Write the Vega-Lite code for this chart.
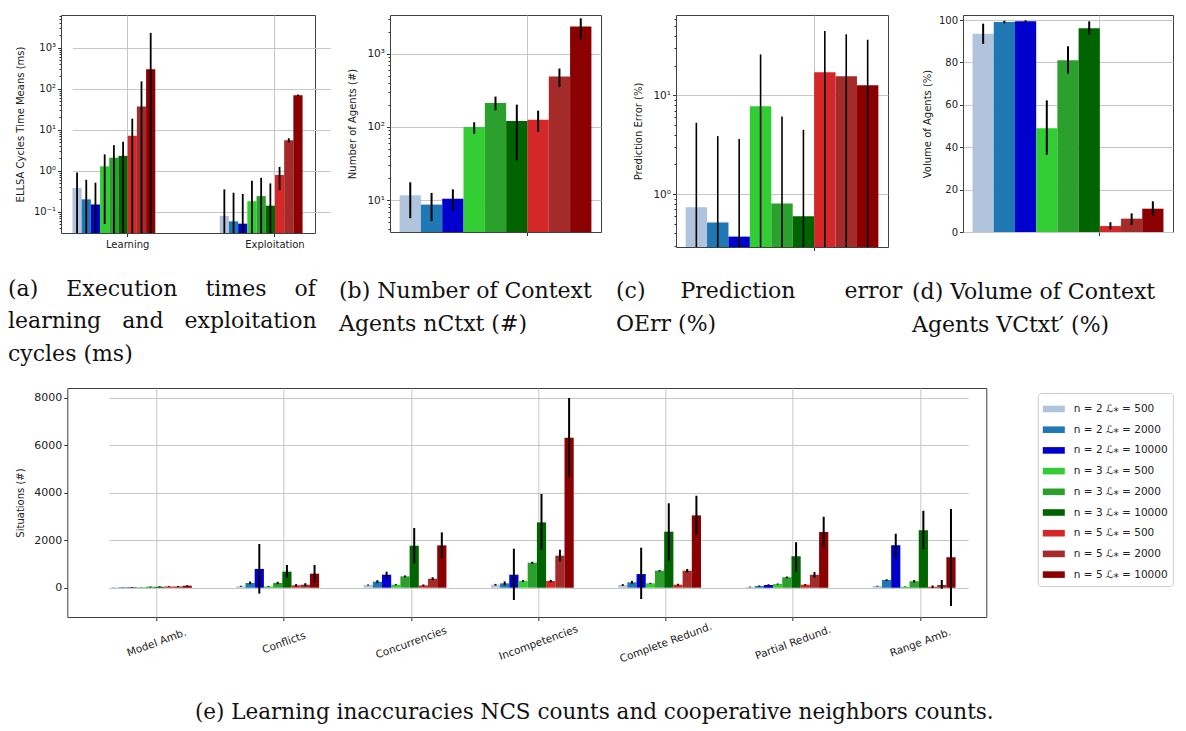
{
  "$schema": "https://vega.github.io/schema/vega-lite/v6.json",
  "background": "white",
  "padding": {"left": 7, "top": 10, "right": 4, "bottom": 4},
  "config": {
    "font": "DejaVu Sans",
    "view": {"stroke": "#404040", "strokeWidth": 1},
    "axis": {
      "labelFont": "DejaVu Sans", "labelFontSize": 10, "labelColor": "#222222",
      "titleFont": "DejaVu Sans", "titleFontSize": 10, "titleFontWeight": "normal", "titleColor": "#222222",
      "tickColor": "#333333", "tickSize": 3.5, "domain": false,
      "gridColor": "#c6c6c6", "gridWidth": 1, "labelOverlap": false, "zindex": 1
    },
    "title": {"font": "DejaVu Serif", "fontSize": 22, "fontWeight": "normal", "color": "#111111", "lineHeight": 32.5}
  },
  "datasets": {
    "times": [
      {"phase": "Learning", "config": "n = 2 ℒ⁎ = 500", "mean": 0.38, "lo": 0.03, "hi": 0.9},
      {"phase": "Learning", "config": "n = 2 ℒ⁎ = 2000", "mean": 0.2, "lo": 0.03, "hi": 0.6},
      {"phase": "Learning", "config": "n = 2 ℒ⁎ = 10000", "mean": 0.15, "lo": 0.03, "hi": 0.51},
      {"phase": "Learning", "config": "n = 3 ℒ⁎ = 500", "mean": 1.28, "lo": 0.05, "hi": 2.5},
      {"phase": "Learning", "config": "n = 3 ℒ⁎ = 2000", "mean": 2.07, "lo": 0.03, "hi": 4.2},
      {"phase": "Learning", "config": "n = 3 ℒ⁎ = 10000", "mean": 2.3, "lo": 0.03, "hi": 5.1},
      {"phase": "Learning", "config": "n = 5 ℒ⁎ = 500", "mean": 7.1, "lo": 0.03, "hi": 18.6},
      {"phase": "Learning", "config": "n = 5 ℒ⁎ = 2000", "mean": 37, "lo": 0.03, "hi": 151},
      {"phase": "Learning", "config": "n = 5 ℒ⁎ = 10000", "mean": 297, "lo": 0.03, "hi": 2300},
      {"phase": "Exploitation", "config": "n = 2 ℒ⁎ = 500", "mean": 0.079, "lo": 0.03, "hi": 0.35},
      {"phase": "Exploitation", "config": "n = 2 ℒ⁎ = 2000", "mean": 0.058, "lo": 0.03, "hi": 0.29},
      {"phase": "Exploitation", "config": "n = 2 ℒ⁎ = 10000", "mean": 0.051, "lo": 0.03, "hi": 0.27},
      {"phase": "Exploitation", "config": "n = 3 ℒ⁎ = 500", "mean": 0.18, "lo": 0.03, "hi": 0.57},
      {"phase": "Exploitation", "config": "n = 3 ℒ⁎ = 2000", "mean": 0.24, "lo": 0.03, "hi": 0.67},
      {"phase": "Exploitation", "config": "n = 3 ℒ⁎ = 10000", "mean": 0.14, "lo": 0.03, "hi": 0.49},
      {"phase": "Exploitation", "config": "n = 5 ℒ⁎ = 500", "mean": 0.785, "lo": 0.335, "hi": 1.24},
      {"phase": "Exploitation", "config": "n = 5 ℒ⁎ = 2000", "mean": 5.5, "lo": 4.9, "hi": 6.2},
      {"phase": "Exploitation", "config": "n = 5 ℒ⁎ = 10000", "mean": 69, "lo": 66, "hi": 72}
    ],
    "agents": [
      {"config": "n = 2 ℒ⁎ = 500", "mean": 11.7, "lo": 5.7, "hi": 17.6},
      {"config": "n = 2 ℒ⁎ = 2000", "mean": 8.73, "lo": 5.2, "hi": 12.6},
      {"config": "n = 2 ℒ⁎ = 10000", "mean": 10.5, "lo": 7.3, "hi": 14.1},
      {"config": "n = 3 ℒ⁎ = 500", "mean": 100, "lo": 81, "hi": 116},
      {"config": "n = 3 ℒ⁎ = 2000", "mean": 212, "lo": 169, "hi": 260},
      {"config": "n = 3 ℒ⁎ = 10000", "mean": 121, "lo": 35, "hi": 202},
      {"config": "n = 5 ℒ⁎ = 500", "mean": 126, "lo": 85.5, "hi": 167},
      {"config": "n = 5 ℒ⁎ = 2000", "mean": 488, "lo": 351, "hi": 627},
      {"config": "n = 5 ℒ⁎ = 10000", "mean": 2344, "lo": 1556, "hi": 3040}
    ],
    "error": [
      {"config": "n = 2 ℒ⁎ = 500", "mean": 0.738, "lo": 0.29, "hi": 5.28},
      {"config": "n = 2 ℒ⁎ = 2000", "mean": 0.517, "lo": 0.29, "hi": 3.87},
      {"config": "n = 2 ℒ⁎ = 10000", "mean": 0.372, "lo": 0.29, "hi": 3.61},
      {"config": "n = 3 ℒ⁎ = 500", "mean": 7.74, "lo": 0.29, "hi": 26},
      {"config": "n = 3 ℒ⁎ = 2000", "mean": 0.805, "lo": 0.29, "hi": 6.12},
      {"config": "n = 3 ℒ⁎ = 10000", "mean": 0.598, "lo": 0.29, "hi": 4.48},
      {"config": "n = 5 ℒ⁎ = 500", "mean": 17.1, "lo": 0.29, "hi": 44.9},
      {"config": "n = 5 ℒ⁎ = 2000", "mean": 15.6, "lo": 0.29, "hi": 41.5},
      {"config": "n = 5 ℒ⁎ = 10000", "mean": 12.7, "lo": 0.29, "hi": 36.6}
    ],
    "volume": [
      {"config": "n = 2 ℒ⁎ = 500", "mean": 93.5, "lo": 88.8, "hi": 98.3},
      {"config": "n = 2 ℒ⁎ = 2000", "mean": 99.1, "lo": 98.5, "hi": 99.7},
      {"config": "n = 2 ℒ⁎ = 10000", "mean": 99.4, "lo": 98.9, "hi": 99.9},
      {"config": "n = 3 ℒ⁎ = 500", "mean": 49.0, "lo": 36.4, "hi": 62.1},
      {"config": "n = 3 ℒ⁎ = 2000", "mean": 81.1, "lo": 74.8, "hi": 87.7},
      {"config": "n = 3 ℒ⁎ = 10000", "mean": 96.1, "lo": 93.1, "hi": 99.4},
      {"config": "n = 5 ℒ⁎ = 500", "mean": 2.8, "lo": 1.3, "hi": 4.6},
      {"config": "n = 5 ℒ⁎ = 2000", "mean": 6.3, "lo": 3.3, "hi": 8.8},
      {"config": "n = 5 ℒ⁎ = 10000", "mean": 11.0, "lo": 7.6, "hi": 14.5}
    ],
    "ncs": [
      {"situation": "Model Amb.", "config": "n = 2 ℒ⁎ = 500", "mean": 10, "lo": 5, "hi": 15},
      {"situation": "Model Amb.", "config": "n = 2 ℒ⁎ = 2000", "mean": 15, "lo": 7, "hi": 23},
      {"situation": "Model Amb.", "config": "n = 2 ℒ⁎ = 10000", "mean": 20, "lo": 10, "hi": 30},
      {"situation": "Model Amb.", "config": "n = 3 ℒ⁎ = 500", "mean": 15, "lo": 7, "hi": 23},
      {"situation": "Model Amb.", "config": "n = 3 ℒ⁎ = 2000", "mean": 35, "lo": 15, "hi": 55},
      {"situation": "Model Amb.", "config": "n = 3 ℒ⁎ = 10000", "mean": 40, "lo": 20, "hi": 60},
      {"situation": "Model Amb.", "config": "n = 5 ℒ⁎ = 500", "mean": 45, "lo": 30, "hi": 60},
      {"situation": "Model Amb.", "config": "n = 5 ℒ⁎ = 2000", "mean": 50, "lo": 30, "hi": 70},
      {"situation": "Model Amb.", "config": "n = 5 ℒ⁎ = 10000", "mean": 80, "lo": 55, "hi": 105},
      {"situation": "Conflicts", "config": "n = 2 ℒ⁎ = 500", "mean": 60, "lo": 40, "hi": 80},
      {"situation": "Conflicts", "config": "n = 2 ℒ⁎ = 2000", "mean": 200, "lo": 140, "hi": 260},
      {"situation": "Conflicts", "config": "n = 2 ℒ⁎ = 10000", "mean": 790, "lo": -250, "hi": 1840},
      {"situation": "Conflicts", "config": "n = 3 ℒ⁎ = 500", "mean": 50, "lo": 30, "hi": 70},
      {"situation": "Conflicts", "config": "n = 3 ℒ⁎ = 2000", "mean": 200, "lo": 150, "hi": 250},
      {"situation": "Conflicts", "config": "n = 3 ℒ⁎ = 10000", "mean": 674, "lo": 420, "hi": 955},
      {"situation": "Conflicts", "config": "n = 5 ℒ⁎ = 500", "mean": 100, "lo": 50, "hi": 150},
      {"situation": "Conflicts", "config": "n = 5 ℒ⁎ = 2000", "mean": 126, "lo": 60, "hi": 190},
      {"situation": "Conflicts", "config": "n = 5 ℒ⁎ = 10000", "mean": 590, "lo": 225, "hi": 955},
      {"situation": "Concurrencies", "config": "n = 2 ℒ⁎ = 500", "mean": 112, "lo": 90, "hi": 135},
      {"situation": "Concurrencies", "config": "n = 2 ℒ⁎ = 2000", "mean": 253, "lo": 190, "hi": 315},
      {"situation": "Concurrencies", "config": "n = 2 ℒ⁎ = 10000", "mean": 547, "lo": 420, "hi": 675},
      {"situation": "Concurrencies", "config": "n = 3 ℒ⁎ = 500", "mean": 126, "lo": 100, "hi": 150},
      {"situation": "Concurrencies", "config": "n = 3 ℒ⁎ = 2000", "mean": 477, "lo": 440, "hi": 515},
      {"situation": "Concurrencies", "config": "n = 3 ℒ⁎ = 10000", "mean": 1768, "lo": 1024, "hi": 2513},
      {"situation": "Concurrencies", "config": "n = 5 ℒ⁎ = 500", "mean": 97, "lo": 60, "hi": 135},
      {"situation": "Concurrencies", "config": "n = 5 ℒ⁎ = 2000", "mean": 379, "lo": 320, "hi": 440},
      {"situation": "Concurrencies", "config": "n = 5 ℒ⁎ = 10000", "mean": 1782, "lo": 1235, "hi": 2330},
      {"situation": "Incompetencies", "config": "n = 2 ℒ⁎ = 500", "mean": 126, "lo": 90, "hi": 160},
      {"situation": "Incompetencies", "config": "n = 2 ℒ⁎ = 2000", "mean": 183, "lo": 100, "hi": 265},
      {"situation": "Incompetencies", "config": "n = 2 ℒ⁎ = 10000", "mean": 547, "lo": -519, "hi": 1642},
      {"situation": "Incompetencies", "config": "n = 3 ℒ⁎ = 500", "mean": 281, "lo": 240, "hi": 320},
      {"situation": "Incompetencies", "config": "n = 3 ℒ⁎ = 2000", "mean": 1053, "lo": 1010, "hi": 1095},
      {"situation": "Incompetencies", "config": "n = 3 ℒ⁎ = 10000", "mean": 2750, "lo": 1586, "hi": 3944},
      {"situation": "Incompetencies", "config": "n = 5 ℒ⁎ = 500", "mean": 281, "lo": 230, "hi": 330},
      {"situation": "Incompetencies", "config": "n = 5 ℒ⁎ = 2000", "mean": 1347, "lo": 1108, "hi": 1600},
      {"situation": "Incompetencies", "config": "n = 5 ℒ⁎ = 10000", "mean": 6316, "lo": 4646, "hi": 7986},
      {"situation": "Complete Redund.", "config": "n = 2 ℒ⁎ = 500", "mean": 112, "lo": 75, "hi": 150},
      {"situation": "Complete Redund.", "config": "n = 2 ℒ⁎ = 2000", "mean": 225, "lo": 165, "hi": 285},
      {"situation": "Complete Redund.", "config": "n = 2 ℒ⁎ = 10000", "mean": 575, "lo": -477, "hi": 1684},
      {"situation": "Complete Redund.", "config": "n = 3 ℒ⁎ = 500", "mean": 183, "lo": 160, "hi": 205},
      {"situation": "Complete Redund.", "config": "n = 3 ℒ⁎ = 2000", "mean": 716, "lo": 685, "hi": 745},
      {"situation": "Complete Redund.", "config": "n = 3 ℒ⁎ = 10000", "mean": 2358, "lo": 1137, "hi": 3551},
      {"situation": "Complete Redund.", "config": "n = 5 ℒ⁎ = 500", "mean": 126, "lo": 85, "hi": 165},
      {"situation": "Complete Redund.", "config": "n = 5 ℒ⁎ = 2000", "mean": 716, "lo": 645, "hi": 790},
      {"situation": "Complete Redund.", "config": "n = 5 ℒ⁎ = 10000", "mean": 3045, "lo": 2218, "hi": 3874},
      {"situation": "Partial Redund.", "config": "n = 2 ℒ⁎ = 500", "mean": 30, "lo": 15, "hi": 45},
      {"situation": "Partial Redund.", "config": "n = 2 ℒ⁎ = 2000", "mean": 70, "lo": 45, "hi": 95},
      {"situation": "Partial Redund.", "config": "n = 2 ℒ⁎ = 10000", "mean": 112, "lo": 80, "hi": 145},
      {"situation": "Partial Redund.", "config": "n = 3 ℒ⁎ = 500", "mean": 154, "lo": 130, "hi": 180},
      {"situation": "Partial Redund.", "config": "n = 3 ℒ⁎ = 2000", "mean": 435, "lo": 395, "hi": 475},
      {"situation": "Partial Redund.", "config": "n = 3 ℒ⁎ = 10000", "mean": 1319, "lo": 674, "hi": 1909},
      {"situation": "Partial Redund.", "config": "n = 5 ℒ⁎ = 500", "mean": 126, "lo": 95, "hi": 155},
      {"situation": "Partial Redund.", "config": "n = 5 ℒ⁎ = 2000", "mean": 547, "lo": 430, "hi": 665},
      {"situation": "Partial Redund.", "config": "n = 5 ℒ⁎ = 10000", "mean": 2344, "lo": 1698, "hi": 2989},
      {"situation": "Range Amb.", "config": "n = 2 ℒ⁎ = 500", "mean": 70, "lo": 55, "hi": 85},
      {"situation": "Range Amb.", "config": "n = 2 ℒ⁎ = 2000", "mean": 323, "lo": 285, "hi": 360},
      {"situation": "Range Amb.", "config": "n = 2 ℒ⁎ = 10000", "mean": 1782, "lo": 1263, "hi": 2274},
      {"situation": "Range Amb.", "config": "n = 3 ℒ⁎ = 500", "mean": 40, "lo": 25, "hi": 55},
      {"situation": "Range Amb.", "config": "n = 3 ℒ⁎ = 2000", "mean": 267, "lo": 215, "hi": 320},
      {"situation": "Range Amb.", "config": "n = 3 ℒ⁎ = 10000", "mean": 2414, "lo": 1614, "hi": 3242},
      {"situation": "Range Amb.", "config": "n = 5 ℒ⁎ = 500", "mean": 40, "lo": -10, "hi": 90},
      {"situation": "Range Amb.", "config": "n = 5 ℒ⁎ = 2000", "mean": 112, "lo": -40, "hi": 323},
      {"situation": "Range Amb.", "config": "n = 5 ℒ⁎ = 10000", "mean": 1277, "lo": -772, "hi": 3312}
    ]
  },
  "concat": [
    {
      "hconcat": [
        {
          "width": 254, "height": 218,
          "data": {"name": "times"},
          "title": {"text": ["(a)\u00a0\u00a0\u00a0\u00a0Execution\u00a0\u00a0\u00a0\u00a0times\u00a0\u00a0\u00a0\u00a0of", "learning\u00a0\u00a0\u00a0and\u00a0\u00a0\u00a0exploitation", "cycles (ms)"], "orient": "bottom", "anchor": "start", "frame": "bounds", "offset": 29, "dx": -7},
          "encoding": {
            "x": {"field": "phase", "type": "nominal", "sort": ["Learning", "Exploitation"],
                  "scale": {"domain": ["Learning", "Exploitation"], "range": [11.45, 269.2], "paddingInner": 0.25, "paddingOuter": 0},
                  "axis": {"title": null, "labelAngle": 0, "grid": true, "bandPosition": 0.5, "labelPadding": 3}},
            "xOffset": {"field": "config", "type": "nominal",
                  "scale": {"domain": ["n = 2 ℒ⁎ = 500", "n = 2 ℒ⁎ = 2000", "n = 2 ℒ⁎ = 10000", "n = 3 ℒ⁎ = 500", "n = 3 ℒ⁎ = 2000", "n = 3 ℒ⁎ = 10000", "n = 5 ℒ⁎ = 500", "n = 5 ℒ⁎ = 2000", "n = 5 ℒ⁎ = 10000", "slot10", "slot11", "slot12"], "paddingInner": 0, "paddingOuter": 0}}
          },
          "layer": [
            {
              "mark": {"type": "bar", "clip": true},
              "encoding": {
                "y": {"field": "mean", "type": "quantitative",
                      "scale": {"type": "log", "domain": [0.0302, 6280], "nice": false},
                      "axis": {"title": "ELLSA Cycles Time Means (ms)", "minExtent": 30, "maxExtent": 30, "titlePadding": 6,
                               "values": [0.04, 0.05, 0.06, 0.07, 0.08, 0.09, 0.1, 0.2, 0.3, 0.4, 0.5, 0.6, 0.7, 0.8, 0.9, 1, 2, 3, 4, 5, 6, 7, 8, 9, 10, 20, 30, 40, 50, 60, 70, 80, 90, 100, 200, 300, 400, 500, 600, 700, 800, 900, 1000, 2000, 3000, 4000, 5000, 6000],
                               "labelExpr": "datum.value === 0.1 ? '10⁻¹' : datum.value === 1 ? '10⁰' : datum.value === 10 ? '10¹' : datum.value === 100 ? '10²' : datum.value === 1000 ? '10³' : ''",
                               "tickSize": {"condition": {"test": "indexof([0.1, 1, 10, 100, 1000], datum.value) >= 0", "value": 3.5}, "value": 2},
                               "gridOpacity": {"condition": {"test": "indexof([0.1, 1, 10, 100, 1000], datum.value) >= 0", "value": 1}, "value": 0}}},
                "y2": {"datum": 0.0302},
                "color": {"field": "config", "type": "nominal",
                          "scale": {"domain": ["n = 2 ℒ⁎ = 500", "n = 2 ℒ⁎ = 2000", "n = 2 ℒ⁎ = 10000", "n = 3 ℒ⁎ = 500", "n = 3 ℒ⁎ = 2000", "n = 3 ℒ⁎ = 10000", "n = 5 ℒ⁎ = 500", "n = 5 ℒ⁎ = 2000", "n = 5 ℒ⁎ = 10000"],
                                    "range": ["#b0c4de", "#1f77b4", "#0000cd", "#32cd32", "#2ca02c", "#006400", "#d62728", "#a52a2a", "#8b0000"]},
                          "legend": null}
              }
            },
            {
              "mark": {"type": "rule", "clip": true, "color": "black", "strokeWidth": 1.8},
              "encoding": {"y": {"field": "lo", "type": "quantitative"}, "y2": {"field": "hi"}}
            }
          ]
        },
        {
          "width": 211, "height": 217,
          "data": {"name": "agents"},
          "title": {"text": ["(b) Number of Context", "Agents nCtxt (#)"], "orient": "bottom", "anchor": "start", "frame": "bounds", "offset": 45, "dx": -8},
          "encoding": {
            "x": {"field": "config", "type": "nominal",
                  "scale": {"domain": ["n = 2 ℒ⁎ = 500", "n = 2 ℒ⁎ = 2000", "n = 2 ℒ⁎ = 10000", "n = 3 ℒ⁎ = 500", "n = 3 ℒ⁎ = 2000", "n = 3 ℒ⁎ = 10000", "n = 5 ℒ⁎ = 500", "n = 5 ℒ⁎ = 2000", "n = 5 ℒ⁎ = 10000"], "paddingInner": 0, "paddingOuter": 0.45},
                  "axis": {"title": null, "labels": false, "grid": true, "values": ["n = 5 ℒ⁎ = 500"], "bandPosition": 0}}
          },
          "layer": [
            {
              "mark": {"type": "bar", "clip": true},
              "encoding": {
                "y": {"field": "mean", "type": "quantitative",
                      "scale": {"type": "log", "domain": [3.69, 3375], "nice": false},
                      "axis": {"title": "Number of Agents (#)", "minExtent": 23, "maxExtent": 23, "titlePadding": 10,
                               "values": [4, 5, 6, 7, 8, 9, 10, 20, 30, 40, 50, 60, 70, 80, 90, 100, 200, 300, 400, 500, 600, 700, 800, 900, 1000, 2000, 3000],
                               "labelExpr": "datum.value === 10 ? '10¹' : datum.value === 100 ? '10²' : datum.value === 1000 ? '10³' : ''",
                               "labelFontSize": 10.5,
                               "tickSize": {"condition": {"test": "indexof([10, 100, 1000], datum.value) >= 0", "value": 3.5}, "value": 2},
                               "gridOpacity": {"condition": {"test": "indexof([10, 100, 1000], datum.value) >= 0", "value": 1}, "value": 0}}},
                "y2": {"datum": 3.69},
                "color": {"field": "config", "type": "nominal",
                          "scale": {"domain": ["n = 2 ℒ⁎ = 500", "n = 2 ℒ⁎ = 2000", "n = 2 ℒ⁎ = 10000", "n = 3 ℒ⁎ = 500", "n = 3 ℒ⁎ = 2000", "n = 3 ℒ⁎ = 10000", "n = 5 ℒ⁎ = 500", "n = 5 ℒ⁎ = 2000", "n = 5 ℒ⁎ = 10000"],
                                    "range": ["#b0c4de", "#1f77b4", "#0000cd", "#32cd32", "#2ca02c", "#006400", "#d62728", "#a52a2a", "#8b0000"]},
                          "legend": null}
              }
            },
            {
              "mark": {"type": "rule", "clip": true, "color": "black", "strokeWidth": 2},
              "encoding": {"y": {"field": "lo", "type": "quantitative"}, "y2": {"field": "hi"}}
            }
          ]
        },
        {
          "width": 212, "height": 232,
          "data": {"name": "error"},
          "title": {"text": ["(c)\u00a0\u00a0\u00a0\u00a0\u00a0Prediction\u00a0\u00a0\u00a0\u00a0\u00a0\u00a0\u00a0error", "\u00a0\u00a0OErr (%)"], "orient": "bottom", "anchor": "start", "frame": "bounds", "offset": 30, "dx": -17},
          "encoding": {
            "x": {"field": "config", "type": "nominal",
                  "scale": {"domain": ["n = 2 ℒ⁎ = 500", "n = 2 ℒ⁎ = 2000", "n = 2 ℒ⁎ = 10000", "n = 3 ℒ⁎ = 500", "n = 3 ℒ⁎ = 2000", "n = 3 ℒ⁎ = 10000", "n = 5 ℒ⁎ = 500", "n = 5 ℒ⁎ = 2000", "n = 5 ℒ⁎ = 10000"], "paddingInner": 0, "paddingOuter": 0.45},
                  "axis": {"title": null, "labels": false, "grid": true, "values": ["n = 5 ℒ⁎ = 500"], "bandPosition": 0}}
          },
          "layer": [
            {
              "mark": {"type": "bar", "clip": true},
              "encoding": {
                "y": {"field": "mean", "type": "quantitative",
                      "scale": {"type": "log", "domain": [0.292, 65.1], "nice": false},
                      "axis": {"title": "Prediction Error (%)", "minExtent": 23, "maxExtent": 23, "titlePadding": 10,
                               "values": [0.3, 0.4, 0.5, 0.6, 0.7, 0.8, 0.9, 1, 2, 3, 4, 5, 6, 7, 8, 9, 10, 20, 30, 40, 50, 60],
                               "labelExpr": "datum.value === 1 ? '10⁰' : datum.value === 10 ? '10¹' : ''",
                               "labelFontSize": 10.5,
                               "tickSize": {"condition": {"test": "indexof([1, 10], datum.value) >= 0", "value": 3.5}, "value": 2},
                               "gridOpacity": {"condition": {"test": "indexof([1, 10], datum.value) >= 0", "value": 1}, "value": 0}}},
                "y2": {"datum": 0.292},
                "color": {"field": "config", "type": "nominal",
                          "scale": {"domain": ["n = 2 ℒ⁎ = 500", "n = 2 ℒ⁎ = 2000", "n = 2 ℒ⁎ = 10000", "n = 3 ℒ⁎ = 500", "n = 3 ℒ⁎ = 2000", "n = 3 ℒ⁎ = 10000", "n = 5 ℒ⁎ = 500", "n = 5 ℒ⁎ = 2000", "n = 5 ℒ⁎ = 10000"],
                                    "range": ["#b0c4de", "#1f77b4", "#0000cd", "#32cd32", "#2ca02c", "#006400", "#d62728", "#a52a2a", "#8b0000"]},
                          "legend": null}
              }
            },
            {
              "mark": {"type": "rule", "clip": true, "color": "black", "strokeWidth": 1.6},
              "encoding": {"y": {"field": "lo", "type": "quantitative"}, "y2": {"field": "hi"}}
            }
          ]
        },
        {
          "width": 210, "height": 217,
          "data": {"name": "volume"},
          "title": {"text": ["(d) Volume of Context", "Agents VCtxt′ (%)"], "orient": "bottom", "anchor": "start", "frame": "bounds", "offset": 45, "dx": -10},
          "encoding": {
            "x": {"field": "config", "type": "nominal",
                  "scale": {"domain": ["n = 2 ℒ⁎ = 500", "n = 2 ℒ⁎ = 2000", "n = 2 ℒ⁎ = 10000", "n = 3 ℒ⁎ = 500", "n = 3 ℒ⁎ = 2000", "n = 3 ℒ⁎ = 10000", "n = 5 ℒ⁎ = 500", "n = 5 ℒ⁎ = 2000", "n = 5 ℒ⁎ = 10000"], "paddingInner": 0, "paddingOuter": 0.45},
                  "axis": {"title": null, "labels": false, "grid": true, "values": ["n = 5 ℒ⁎ = 500"], "bandPosition": 0}}
          },
          "layer": [
            {
              "mark": {"type": "bar", "clip": true},
              "encoding": {
                "y": {"field": "mean", "type": "quantitative",
                      "scale": {"domain": [0, 102.4], "nice": false, "zero": true},
                      "axis": {"title": "Volume of Agents (%)", "minExtent": 23, "maxExtent": 23, "titlePadding": 8,
                               "values": [0, 20, 40, 60, 80, 100]}},
                "color": {"field": "config", "type": "nominal",
                          "scale": {"domain": ["n = 2 ℒ⁎ = 500", "n = 2 ℒ⁎ = 2000", "n = 2 ℒ⁎ = 10000", "n = 3 ℒ⁎ = 500", "n = 3 ℒ⁎ = 2000", "n = 3 ℒ⁎ = 10000", "n = 5 ℒ⁎ = 500", "n = 5 ℒ⁎ = 2000", "n = 5 ℒ⁎ = 10000"],
                                    "range": ["#b0c4de", "#1f77b4", "#0000cd", "#32cd32", "#2ca02c", "#006400", "#d62728", "#a52a2a", "#8b0000"]},
                          "legend": null}
              }
            },
            {
              "mark": {"type": "rule", "clip": true, "color": "black", "strokeWidth": 2},
              "encoding": {"y": {"field": "lo", "type": "quantitative"}, "y2": {"field": "hi"}}
            }
          ]
        }
      ],
      "spacing": 75,
      "bounds": "flush",
      "resolve": {"scale": {"color": "independent"}, "legend": {"color": "independent"}}
    },
    {
      "hconcat": [
        {
          "width": 1, "height": 1,
          "data": {"values": []},
          "mark": {"type": "point"},
          "view": {"stroke": null}
        },
        {
          "width": 919, "height": 229,
          "data": {"name": "ncs"},
          "title": {"text": "(e) Learning inaccuracies NCS counts and cooperative neighbors counts.", "orient": "bottom", "anchor": "middle", "frame": "bounds", "offset": 38, "fontSize": 21.5},
          "encoding": {
            "x": {"field": "situation", "type": "nominal",
                  "sort": ["Model Amb.", "Conflicts", "Concurrencies", "Incompetencies", "Complete Redund.", "Partial Redund.", "Range Amb."],
                  "scale": {"domain": ["Model Amb.", "Conflicts", "Concurrencies", "Incompetencies", "Complete Redund.", "Partial Redund.", "Range Amb."], "range": [41.7, 900.9], "paddingInner": 0.25, "paddingOuter": 0},
                  "axis": {"title": null, "grid": true, "bandPosition": 0.5, "labelAngle": -20, "labelAlign": "center", "labelBaseline": "middle", "labelFontSize": 10.5, "labelPadding": 22}},
            "xOffset": {"field": "config", "type": "nominal",
                  "scale": {"domain": ["n = 2 ℒ⁎ = 500", "n = 2 ℒ⁎ = 2000", "n = 2 ℒ⁎ = 10000", "n = 3 ℒ⁎ = 500", "n = 3 ℒ⁎ = 2000", "n = 3 ℒ⁎ = 10000", "n = 5 ℒ⁎ = 500", "n = 5 ℒ⁎ = 2000", "n = 5 ℒ⁎ = 10000", "slot10", "slot11", "slot12"], "paddingInner": 0, "paddingOuter": 0}}
          },
          "layer": [
            {
              "mark": {"type": "bar", "clip": true},
              "encoding": {
                "y": {"field": "mean", "type": "quantitative",
                      "scale": {"domain": [-1234, 8408], "nice": false, "zero": false},
                      "axis": {"title": "Situations (#)", "values": [0, 2000, 4000, 6000, 8000], "format": "d", "labelFontSize": 11, "minExtent": 31, "maxExtent": 31, "titlePadding": 11}},
                "color": {"field": "config", "type": "nominal",
                          "scale": {"domain": ["n = 2 ℒ⁎ = 500", "n = 2 ℒ⁎ = 2000", "n = 2 ℒ⁎ = 10000", "n = 3 ℒ⁎ = 500", "n = 3 ℒ⁎ = 2000", "n = 3 ℒ⁎ = 10000", "n = 5 ℒ⁎ = 500", "n = 5 ℒ⁎ = 2000", "n = 5 ℒ⁎ = 10000"],
                                    "range": ["#b0c4de", "#1f77b4", "#0000cd", "#32cd32", "#2ca02c", "#006400", "#d62728", "#a52a2a", "#8b0000"]},
                          "legend": {"orient": "none", "legendX": 970.5, "legendY": 5, "title": null, "direction": "vertical",
                                     "symbolType": "M-1,-0.3H1V0.3H-1Z", "symbolSize": 484, "symbolStrokeWidth": 0, "symbolOpacity": 1,
                                     "labelFont": "DejaVu Sans", "labelFontSize": 10.5, "labelColor": "#222222", "labelOffset": 9,
                                     "rowPadding": 3.7, "padding": 5, "strokeColor": "#cccccc", "cornerRadius": 3, "fillColor": "white"}}
              }
            },
            {
              "mark": {"type": "rule", "clip": true, "color": "black", "strokeWidth": 2},
              "encoding": {"y": {"field": "lo", "type": "quantitative"}, "y2": {"field": "hi"}}
            }
          ]
        }
      ],
      "spacing": 5.3,
      "bounds": "flush",
      "resolve": {"scale": {"color": "independent"}, "legend": {"color": "independent"}}
    }
  ],
  "columns": 1,
  "align": "none",
  "spacing": 22,
  "resolve": {"scale": {"color": "independent"}, "legend": {"color": "independent"}}
}
